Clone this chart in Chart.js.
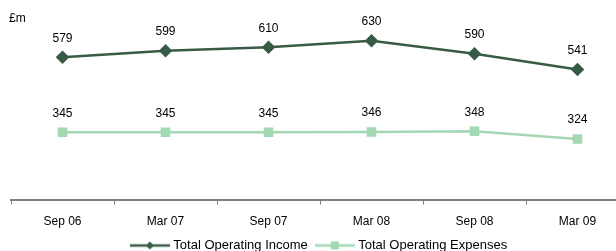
<!DOCTYPE html>
<html>
<head>
<meta charset="utf-8">
<script src="https://cdn.jsdelivr.net/npm/chart.js@4.4.0/dist/chart.umd.min.js"></script>
<style>
  html, body { margin: 0; padding: 0; background: #fff; overflow: hidden; }
  #wrap { position: relative; width: 640px; height: 251px; overflow: hidden; }
  #unit { position: absolute; left: 9px; top: 11px; font: 12px "Liberation Sans", Arial, sans-serif; color: #000; }
</style>
</head>
<body>
<div id="wrap">
  <canvas id="chart" width="640" height="262"></canvas>
  <div id="unit">£m</div>
</div>
<script>
const categories = ['Sep 06', 'Mar 07', 'Sep 07', 'Mar 08', 'Sep 08', 'Mar 09'];
const incomeValues = [579, 599, 610, 630, 590, 541];
const expenseValues = [345, 345, 345, 346, 348, 324];

const incomeColor = '#375b45';
const expenseColor = '#a2d8b2';

// legend symbol: short line with the marker in the middle
function legendSymbol(color, diamond) {
  const c = document.createElement('canvas');
  c.width = 40; c.height = 10;
  const g = c.getContext('2d');
  g.strokeStyle = color; g.lineWidth = 2.5;
  g.beginPath(); g.moveTo(0, 5); g.lineTo(40, 5); g.stroke();
  g.fillStyle = color;
  if (diamond) {
    g.beginPath(); g.moveTo(20, 1); g.lineTo(24, 5); g.lineTo(20, 9); g.lineTo(16, 5); g.closePath(); g.fill();
  } else {
    g.fillRect(16, 1, 8, 8);
  }
  return c;
}

// values written above each point
const valueLabels = {
  id: 'valueLabels',
  afterDatasetsDraw(chart) {
    const ctx = chart.ctx;
    ctx.save();
    ctx.font = '12px "Liberation Sans", Arial, sans-serif';
    ctx.fillStyle = '#000';
    ctx.textAlign = 'center';
    ctx.textBaseline = 'middle';
    chart.data.datasets.forEach((ds, i) => {
      chart.getDatasetMeta(i).data.forEach((pt, j) => {
        ctx.fillText(ds.data[j], pt.x, pt.y - 19);
      });
    });
    ctx.restore();
  }
};

new Chart(document.getElementById('chart'), {
  type: 'line',
  data: {
    labels: categories,
    datasets: [{
      label: 'Total Operating Income',
      data: incomeValues,
      borderColor: incomeColor,
      backgroundColor: incomeColor,
      borderWidth: 2.5,
      pointStyle: 'rectRot',
      pointRadius: 5,
      pointHoverRadius: 5,
      tension: 0
    }, {
      label: 'Total Operating Expenses',
      data: expenseValues,
      borderColor: expenseColor,
      backgroundColor: expenseColor,
      borderWidth: 2.5,
      pointStyle: 'rect',
      pointRadius: 5,
      pointHoverRadius: 5,
      tension: 0
    }]
  },
  options: {
    responsive: false,
    animation: false,
    layout: { padding: { left: 11, right: 11, top: 0, bottom: 0 } },
    plugins: {
      tooltip: { enabled: false },
      legend: {
        position: 'bottom',
        labels: {
          usePointStyle: true,
          pointStyleWidth: 34,
          padding: 10,
          color: '#000',
          font: { family: '"Liberation Sans", Arial, sans-serif', size: 13 },
          generateLabels(chart) {
            return chart.data.datasets.map((ds, i) => ({
              text: ds.label,
              pointStyle: legendSymbol(ds.borderColor, i === 0),
              fillStyle: ds.borderColor,
              strokeStyle: ds.borderColor,
              lineWidth: 0,
              datasetIndex: i,
              fontColor: '#000'
            }));
          }
        }
      }
    },
    scales: {
      x: {
        offset: true,
        grid: { offset: true, drawOnChartArea: false, drawTicks: true, tickLength: 5, color: '#808080' },
        border: { color: '#808080', width: 2 },
        ticks: { color: '#000', padding: 10, font: { family: '"Liberation Sans", Arial, sans-serif', size: 12 } },
        afterFit(scale) { scale.height -= 10; }
      },
      y: {
        display: false,
        min: 135,
        max: 734
      }
    }
  },
  plugins: [valueLabels]
});
</script>
</body>
</html>
